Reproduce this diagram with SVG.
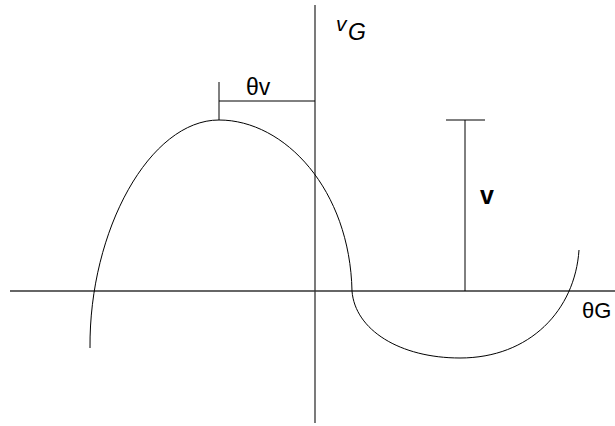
<svg xmlns="http://www.w3.org/2000/svg" width="615" height="426" viewBox="0 0 615 426">
<style>
.ax{stroke:#333;stroke-width:1.3;fill:none}
.ln{stroke:#000;stroke-width:1;fill:none}
.t{font-family:"Liberation Sans",Arial,sans-serif;fill:#000}
</style>
<rect width="615" height="426" fill="#fff"/>
<g id="connectors">
<line class="ax" x1="10" y1="291" x2="615" y2="291"/>
<line class="ax" x1="315" y1="5" x2="315" y2="423"/>
<path class="ln" d="M90 348 C89 230 150 120 219 120 C285 120 350 190 352 291 C355 330 400 358 460 358 C530 358 575 310 579 250"/>
<line class="ln" x1="219" y1="82" x2="219" y2="120"/>
<line class="ln" x1="219" y1="101" x2="315" y2="101"/>
<line class="ln" x1="465" y1="120" x2="465" y2="291"/>
<line class="ln" x1="446" y1="120" x2="485" y2="120"/>
</g>
<g id="label-vG"><text class="t" x="336" y="31" font-size="21" font-style="italic">v</text><text class="t" x="348" y="40" font-size="23" font-style="italic">G</text></g>
<g id="label-thetav"><text class="t" x="246" y="95" font-size="23">θv</text></g>
<g id="label-v"><text class="t" x="480" y="204" font-size="25" font-weight="bold">v</text></g>
<g id="label-thetaG"><text class="t" x="582" y="318" font-size="22">θG</text></g>
</svg>
